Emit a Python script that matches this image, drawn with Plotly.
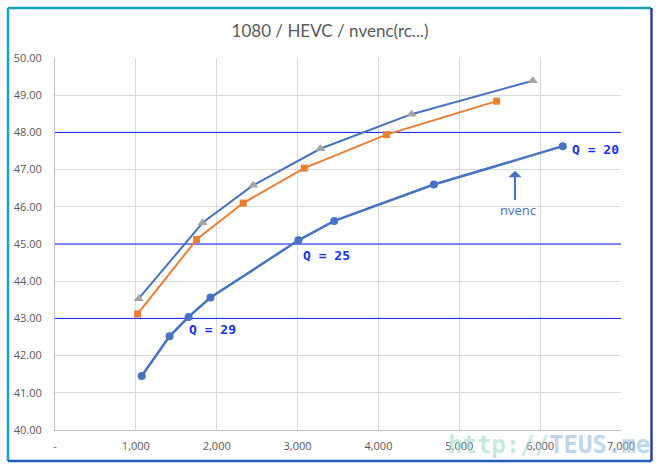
import plotly.graph_objects as go

# ---- data (bitrate kbps vs PSNR-like score) ----
tri_x = [1035, 1825, 2451, 3281, 4409, 5909]
tri_y = [43.53, 45.57, 46.58, 47.56, 48.49, 49.39]

sq_x = [1022, 1751, 2327, 3083, 4099, 5462]
sq_y = [43.12, 45.12, 46.10, 47.04, 47.94, 48.84]

nv_x = [1072, 1417, 1652, 1923, 3010, 3454, 4686, 6280]
nv_y = [41.45, 42.52, 43.04, 43.56, 45.10, 45.62, 46.60, 47.63]

x_ticks = [0, 1000, 2000, 3000, 4000, 5000, 6000, 7000]
x_ticktext = ["-", "1,000", "2,000", "3,000", "4,000", "5,000", "6,000", "7,000"]
y_ticks = [40, 41, 42, 43, 44, 45, 46, 47, 48, 49, 50]
y_ticktext = ["%.2f" % v for v in y_ticks]
ref_levels = [43, 45, 48]

title_text = "1080 / HEVC / nvenc(rc...)"

fig = go.Figure()

# reference horizontal lines
for lv in ref_levels:
    fig.add_trace(go.Scatter(x=[0, 7000], y=[lv, lv], mode="lines",
                             line=dict(color="#0A1EFF", width=1),
                             hoverinfo="skip", showlegend=False))

fig.add_trace(go.Scatter(x=tri_x, y=tri_y, mode="lines+markers",
                         line=dict(color="#4472C4", width=2),
                         marker=dict(symbol="triangle-up", size=9, color="#A5A5A5"),
                         showlegend=False))
fig.add_trace(go.Scatter(x=sq_x, y=sq_y, mode="lines+markers",
                         line=dict(color="#ED7D31", width=2),
                         marker=dict(symbol="square", size=7, color="#ED7D31"),
                         showlegend=False))
fig.add_trace(go.Scatter(x=nv_x, y=nv_y, mode="lines+markers",
                         line=dict(color="#4472C4", width=2.5),
                         marker=dict(symbol="circle", size=8, color="#4472C4"),
                         showlegend=False))

L, R, T, B = 55, 38, 58, 40
W, H = 659, 470
pw, ph = W - L - R, H - T - B


def px(xp):
    return (xp - L) / pw


def py(yp):
    return (H - B - yp) / ph


shapes = [
    dict(type="line", xref="paper", yref="paper", x0=px(8), x1=px(8), y0=py(8), y1=py(461),
         line=dict(color="#0FA3D2", width=2.5)),
    dict(type="line", xref="paper", yref="paper", x0=px(8), x1=px(651), y0=py(8), y1=py(8),
         line=dict(color="#14A3AA", width=2.5)),
    dict(type="line", xref="paper", yref="paper", x0=px(651.5), x1=px(651.5), y0=py(8), y1=py(461),
         line=dict(color="#2E40A4", width=2.5)),
    dict(type="line", xref="paper", yref="paper", x0=px(8), x1=px(651.5), y0=py(461), y1=py(461),
         line=dict(color="#1E5EBE", width=2.5)),
]

q_font = dict(family="DejaVu Sans Mono", size=13, color="#1432F5")
annotations = [
    dict(x=px(549), y=py(445), xref="paper", yref="paper", showarrow=False,
         xanchor="center", yanchor="middle",
         text="<b><span style='color:#9FDCCB'>http://</span><span style='color:#93BDE6'>TEUS.me</span></b>",
         font=dict(family="DejaVu Sans Mono", size=24), opacity=0.6),
    dict(x=6690, y=47.53, xref="x", yref="y", text="<b>Q = 20</b>", showarrow=False, font=q_font),
    dict(x=3352, y=44.69, xref="x", yref="y", text="<b>Q = 25</b>", showarrow=False, font=q_font),
    dict(x=1954, y=42.69, xref="x", yref="y", text="<b>Q = 29</b>", showarrow=False, font=q_font),
    dict(x=5722, y=45.91, xref="x", yref="y", text="nvenc", showarrow=False,
         font=dict(family="Open Sans", size=13, color="#4472C4")),
    dict(x=5689, y=46.97, ax=5689, ay=46.14, xref="x", yref="y", axref="x", ayref="y",
         text="", showarrow=True, arrowhead=1, arrowsize=1.1, arrowwidth=2, arrowcolor="#4472C4"),
]

fig.update_layout(
    width=W, height=H,
    margin=dict(l=L, r=R, t=T, b=B),
    paper_bgcolor="white", plot_bgcolor="white",
    title=dict(text=title_text, x=(330) / W, xanchor="center", y=1 - 31 / H, yanchor="middle",
               font=dict(family="Lato", size=17, color="#595959")),
    xaxis=dict(range=[0, 7000], tickvals=x_ticks, ticktext=x_ticktext,
               showgrid=True, gridcolor="#D9D9D9", gridwidth=1,
               showline=True, linecolor="#BFBFBF", mirror=False, zeroline=False,
               ticks="", ticklabelstandoff=6,
               tickfont=dict(family="Open Sans", size=11, color="#595959")),
    yaxis=dict(range=[40, 50], tickvals=y_ticks, ticktext=y_ticktext,
               showgrid=True, gridcolor="#D9D9D9", gridwidth=1,
               showline=True, linecolor="#BFBFBF", zeroline=False,
               ticks="", ticklabelstandoff=10,
               tickfont=dict(family="Open Sans", size=11, color="#595959")),
    shapes=shapes,
    annotations=annotations,
)

fig.write_html("out.html", config={"displayModeBar": False},
               post_script="document.body.style.margin='0px';document.body.style.overflow='hidden';")
